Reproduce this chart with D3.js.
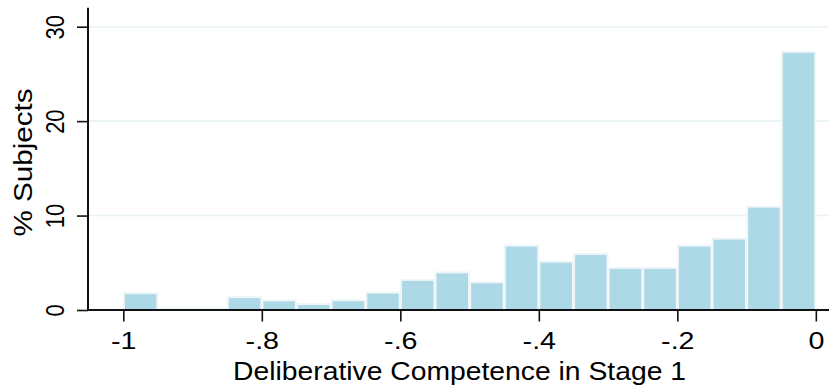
<!DOCTYPE html>
<html>
<head>
<meta charset="utf-8">
<script src="https://d3js.org/d3.v7.min.js"></script>
<style>
  html, body { margin: 0; padding: 0; background: #fff; }
  svg text { font-family: "Liberation Sans", Arial, sans-serif; fill: #000; }
</style>
</head>
<body>
<div id="chart"></div>
<script>
// histogram bins (left edge) and % of subjects per bin
var binStarts = [-1, -0.95, -0.9, -0.85, -0.8, -0.75, -0.7, -0.65, -0.6, -0.55,
                 -0.5, -0.45, -0.4, -0.35, -0.3, -0.25, -0.2, -0.15, -0.1, -0.05];
var binWidth = 0.05;
var pctSubjects = [1.85, 0.27, 0.27, 1.43, 1.08, 0.7, 1.1, 1.9, 3.25, 4.05,
                   3.0, 6.88, 5.19, 6.0, 4.52, 4.52, 6.88, 7.62, 11.0, 27.4];

var xTicks = [-1, -0.8, -0.6, -0.4, -0.2, 0];
var xTickLabels = ["-1", "-.8", "-.6", "-.4", "-.2", "0"];
var yTicks = [0, 10, 20, 30];

var width = 829, height = 391;
var plotLeft = 88, plotRight = 829, plotTop = 7.8, plotBottom = 310;

var svg = d3.select("#chart").append("svg")
    .attr("width", width)
    .attr("height", height);

var x = d3.scaleLinear().domain([-1.051, 0.019]).range([plotLeft, plotRight]);
var y = d3.scaleLinear().domain([0, 32]).range([plotBottom, plotTop]);

// gridlines
svg.append("g")
  .selectAll("line")
  .data(yTicks.filter(function(d) { return d > 0; }))
  .enter().append("line")
    .attr("x1", plotLeft).attr("x2", plotRight)
    .attr("y1", function(d) { return y(d); })
    .attr("y2", function(d) { return y(d); })
    .attr("stroke", "#e8f1f3")
    .attr("stroke-width", 1.6);

// bars
svg.append("g")
  .selectAll("rect")
  .data(pctSubjects)
  .enter().append("rect")
    .attr("x", function(d, i) { return x(binStarts[i]) + 0.6; })
    .attr("y", function(d) { return y(d) + 0.6; })
    .attr("width", function(d, i) { return x(binStarts[i] + binWidth) - x(binStarts[i]) - 1.2; })
    .attr("height", function(d) { return Math.max(0, plotBottom - y(d) - 0.6); })
    .attr("fill", "#add8e6")
    .attr("stroke", "#eef6f9")
    .attr("stroke-width", 2);

// x axis
var xAxis = svg.append("g")
  .attr("transform", "translate(0," + plotBottom + ")")
  .call(d3.axisBottom(x)
    .tickValues(xTicks)
    .tickFormat(function(d, i) { return xTickLabels[i]; })
    .tickSize(11.5)
    .tickPadding(0)
    .tickSizeOuter(0));
xAxis.select(".domain").remove();
xAxis.selectAll(".tick line").attr("stroke", "#111").attr("stroke-width", 1.6);
xAxis.selectAll(".tick text")
  .attr("y", 39.5)
  .attr("dy", null)
  .style("font-size", "23.5px")
  .attr("transform", "scale(1.22,1)");
xAxis.append("line")
  .attr("x1", plotLeft).attr("x2", plotRight)
  .attr("stroke", "#111").attr("stroke-width", 2);

// y axis
var yAxis = svg.append("g")
  .attr("transform", "translate(" + plotLeft + ",0)")
  .call(d3.axisLeft(y)
    .tickValues(yTicks)
    .tickSize(11)
    .tickSizeOuter(0));
yAxis.select(".domain").remove();
yAxis.selectAll(".tick line").attr("stroke", "#111").attr("stroke-width", 1.6);
yAxis.selectAll(".tick text")
  .attr("x", 0).attr("y", 0).attr("dy", null)
  .attr("text-anchor", "middle")
  .style("font-size", "22px")
  .attr("transform", "translate(-24,0) scale(1.16,1) rotate(-90)");
yAxis.append("line")
  .attr("y1", plotTop).attr("y2", plotBottom)
  .attr("stroke", "#111").attr("stroke-width", 2);

// axis titles
svg.append("text")
  .attr("x", 459.5)
  .attr("y", 380.3)
  .attr("text-anchor", "middle")
  .attr("textLength", 453)
  .attr("lengthAdjust", "spacingAndGlyphs")
  .style("font-size", "26.5px")
  .text("Deliberative Competence in Stage 1");

svg.append("text")
  .attr("transform", "translate(31.7,162.5) rotate(-90)")
  .attr("text-anchor", "middle")
  .attr("textLength", 148)
  .attr("lengthAdjust", "spacingAndGlyphs")
  .style("font-size", "25.5px")
  .text("% Subjects");
</script>
</body>
</html>
